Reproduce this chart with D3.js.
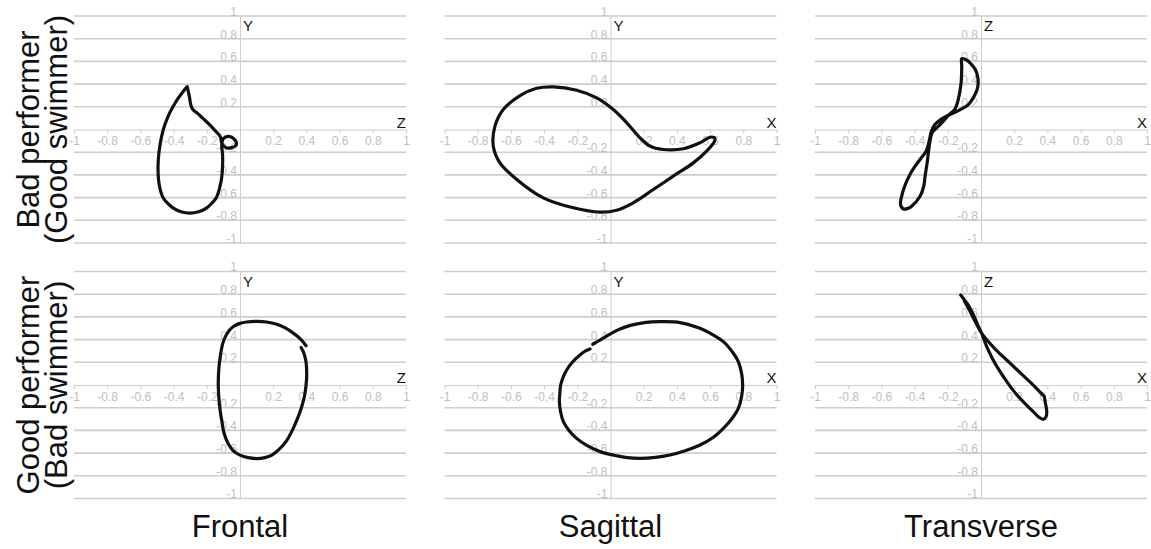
<!DOCTYPE html>
<html>
<head>
<meta charset="utf-8">
<script src="https://cdn.jsdelivr.net/npm/d3@7"></script>
<style>
  html, body { margin: 0; padding: 0; background: #fff; }
  svg { display: block; font-family: "Liberation Sans", Arial, sans-serif; }
</style>
</head>
<body>
<svg id="chart" width="1151" height="549"></svg>
<script>
// Planes (columns) and groups (rows)
const planes = ["Frontal", "Sagittal", "Transverse"];
const horizontalAxisNames = ["Z", "X", "X"];
const verticalAxisNames = ["Y", "Y", "Z"];
const groupTitles = ["Bad performer", "Good performer"];
const groupSubtitles = ["(Good swimmer)", "(Bad swimmer)"];

// Tick values and their printed labels (0 is left unlabelled)
const tickValues = [-1, -0.8, -0.6, -0.4, -0.2, 0, 0.2, 0.4, 0.6, 0.8, 1];
const tickLabels = ["-1", "-0.8", "-0.6", "-0.4", "-0.2", "", "0.2", "0.4", "0.6", "0.8", "1"];

// Loop traces, [horizontal, vertical] in normalised units
const frontalBad = [
  [-0.318, 0.378], [-0.318, 0.378], [-0.305, 0.29], [-0.295, 0.21], [-0.283, 0.175],
  [-0.258, 0.145], [-0.225, 0.1], [-0.185, 0.045], [-0.15, -0.01], [-0.118, -0.065],
  [-0.11, -0.12], [-0.085, -0.16], [-0.05, -0.16], [-0.022, -0.135], [-0.035, -0.085],
  [-0.07, -0.06], [-0.1, -0.08], [-0.11, -0.14], [-0.105, -0.22], [-0.105, -0.32],
  [-0.11, -0.42], [-0.122, -0.51], [-0.141, -0.596], [-0.17, -0.65], [-0.2, -0.69],
  [-0.25, -0.725], [-0.303, -0.737], [-0.355, -0.725], [-0.404, -0.69], [-0.44, -0.645],
  [-0.465, -0.596], [-0.485, -0.5], [-0.493, -0.4], [-0.492, -0.26], [-0.48, -0.12],
  [-0.462, 0], [-0.435, 0.11], [-0.404, 0.2], [-0.37, 0.28], [-0.34, 0.34]
];
const sagittalBad = [
  [-0.345, 0.376], [-0.204, 0.346], [-0.083, 0.279], [0.017, 0.176], [0.098, 0.059],
  [0.178, -0.073], [0.238, -0.147], [0.318, -0.176], [0.439, -0.17], [0.539, -0.117],
  [0.599, -0.068], [0.628, -0.075], [0.625, -0.11], [0.579, -0.191], [0.499, -0.294],
  [0.378, -0.411], [0.258, -0.529], [0.137, -0.646], [0.037, -0.711], [-0.063, -0.728],
  [-0.224, -0.69], [-0.405, -0.602], [-0.565, -0.44], [-0.666, -0.294], [-0.706, -0.147],
  [-0.696, 0.03], [-0.646, 0.176], [-0.545, 0.298], [-0.445, 0.363]
];
const transverseBad = [
  [-0.116, 0.623], [-0.09, 0.615], [-0.066, 0.588], [-0.035, 0.53], [-0.018, 0.45],
  [-0.02, 0.37], [-0.036, 0.308], [-0.076, 0.22], [-0.125, 0.175], [-0.19, 0.13],
  [-0.245, 0.085], [-0.28, 0.04], [-0.3, -0.02], [-0.312, -0.1], [-0.33, -0.19],
  [-0.367, -0.264], [-0.4, -0.33], [-0.428, -0.396], [-0.46, -0.5], [-0.48, -0.6],
  [-0.485, -0.66], [-0.468, -0.7], [-0.44, -0.695], [-0.418, -0.676], [-0.367, -0.588],
  [-0.345, -0.5], [-0.337, -0.411], [-0.325, -0.3], [-0.317, -0.205], [-0.307, -0.1],
  [-0.295, -0.03], [-0.27, 0.01], [-0.235, 0.06], [-0.2, 0.12], [-0.157, 0.18],
  [-0.137, 0.264], [-0.12, 0.41], [-0.116, 0.56]
];
const frontalGood = [
  [0.398, 0.346], [0.365, 0.405], [0.323, 0.455], [0.27, 0.505], [0.222, 0.535],
  [0.16, 0.555], [0.101, 0.56], [0.04, 0.555], [0, 0.543], [-0.035, 0.52],
  [-0.065, 0.48], [-0.09, 0.42], [-0.105, 0.36], [-0.118, 0.26], [-0.127, 0.15],
  [-0.131, 0.02], [-0.128, -0.1], [-0.12, -0.22], [-0.108, -0.33], [-0.095, -0.43],
  [-0.07, -0.52], [-0.04, -0.58], [0, -0.618], [0.05, -0.64], [0.101, -0.648],
  [0.15, -0.64], [0.192, -0.617], [0.24, -0.56], [0.283, -0.485], [0.315, -0.4],
  [0.343, -0.308], [0.37, -0.2], [0.388, -0.1], [0.398, 0], [0.402, 0.1],
  [0.398, 0.2], [0.385, 0.28], [0.368, 0.33]
];
const sagittalGood = [
  [-0.107, 0.359], [-0.063, 0.396], [0, 0.45], [0.057, 0.493], [0.12, 0.525],
  [0.178, 0.543], [0.25, 0.556], [0.318, 0.558], [0.419, 0.549], [0.539, 0.5],
  [0.62, 0.44], [0.68, 0.382], [0.74, 0.28], [0.77, 0.206], [0.79, 0.1],
  [0.796, 0], [0.79, -0.1], [0.77, -0.206], [0.73, -0.3], [0.68, -0.382],
  [0.62, -0.46], [0.539, -0.529], [0.45, -0.58], [0.358, -0.617], [0.27, -0.638],
  [0.178, -0.646], [0.1, -0.64], [0.04, -0.625], [-0.063, -0.587], [-0.14, -0.535],
  [-0.204, -0.47], [-0.25, -0.4], [-0.284, -0.323], [-0.3, -0.24], [-0.308, -0.147],
  [-0.305, -0.07], [-0.3, 0], [-0.285, 0.07], [-0.264, 0.132], [-0.23, 0.2],
  [-0.184, 0.264], [-0.15, 0.3], [-0.123, 0.317]
];
const transverseGood = [
  [-0.122, 0.793], [-0.1, 0.75], [-0.075, 0.7], [-0.046, 0.62], [-0.02, 0.53],
  [0.004, 0.455], [0.034, 0.34], [0.07, 0.23], [0.114, 0.12], [0.165, 0.01],
  [0.215, -0.085], [0.27, -0.17], [0.315, -0.235], [0.35, -0.285], [0.375, -0.302],
  [0.392, -0.28], [0.396, -0.23], [0.388, -0.16], [0.38, -0.1], [0.37, -0.085],
  [0.3, 0.02], [0.22, 0.13], [0.155, 0.22], [0.09, 0.31], [0.04, 0.39],
  [0.004, 0.455], [-0.035, 0.56], [-0.07, 0.66], [-0.1, 0.74]
];

// Each row lists its three plane traces; a flag says whether the loop closes
const traces = [
  [{ data: frontalBad, closed: true }, { data: sagittalBad, closed: true }, { data: transverseBad, closed: true }],
  [{ data: frontalGood, closed: false }, { data: sagittalGood, closed: false }, { data: transverseGood, closed: false }]
];

// Layout
const svg = d3.select("#chart");
const panelLeft = [74, 444.5, 815];
const panelWidth = 332;
const panelTop = [16, 271.5];
const panelHeight = 227;

const gridColor = "#d6cbcb";
const axisColor = "#d3caca";
const tickTextColor = "#c2bebe";
const fontStack = "Liberation Sans, Arial, sans-serif";

traces.forEach((row, r) => {
  row.forEach((trace, c) => {
    const x = d3.scaleLinear().domain([-1, 1]).range([panelLeft[c], panelLeft[c] + panelWidth]);
    const y = d3.scaleLinear().domain([-1, 1]).range([panelTop[r] + panelHeight, panelTop[r]]);
    const g = svg.append("g");

    // horizontal gridlines
    g.append("g").selectAll("line")
      .data(tickValues.filter(v => v !== 0))
      .join("line")
      .attr("x1", x(-1)).attr("x2", x(1))
      .attr("y1", d => y(d)).attr("y2", d => y(d))
      .attr("stroke", gridColor).attr("stroke-width", 1.6);

    // horizontal axis through the origin
    const xAxis = g.append("g")
      .attr("transform", `translate(0,${y(0)})`)
      .call(d3.axisBottom(x).tickValues(tickValues).tickSize(4).tickSizeOuter(0).tickPadding(3)
        .tickFormat((d, i) => tickLabels[i]));
    xAxis.select(".domain").attr("stroke", axisColor).attr("stroke-width", 1);
    xAxis.selectAll(".tick line").attr("stroke", axisColor);
    xAxis.selectAll(".tick text").attr("fill", tickTextColor).attr("font-size", 12)
      .attr("font-family", fontStack);

    // vertical axis through the origin
    const yAxis = g.append("g")
      .attr("transform", `translate(${x(0)},0)`)
      .call(d3.axisLeft(y).tickValues(tickValues).tickSize(0).tickSizeOuter(0).tickPadding(3)
        .tickFormat((d, i) => tickLabels[i]));
    yAxis.select(".domain").attr("stroke", axisColor).attr("stroke-width", 1);
    yAxis.selectAll(".tick text").attr("fill", tickTextColor).attr("font-size", 12)
      .attr("dy", "-0.05em")
      .attr("font-family", fontStack);

    // axis names
    g.append("text")
      .attr("x", x(0) + 3).attr("y", y(1) + 15)
      .attr("font-size", 15).attr("fill", "#111")
      .text(verticalAxisNames[c]);
    g.append("text")
      .attr("x", x(1)).attr("y", y(0) - 2)
      .attr("text-anchor", "end")
      .attr("font-size", 15).attr("fill", "#111")
      .text(horizontalAxisNames[c]);

    // the trace
    const line = d3.line()
      .x(d => x(d[0])).y(d => y(d[1]))
      .curve(trace.closed ? d3.curveCatmullRomClosed.alpha(0.5) : d3.curveCatmullRom.alpha(0.5));
    g.append("path")
      .attr("d", line(trace.data))
      .attr("fill", "none")
      .attr("stroke", "#111")
      .attr("stroke-width", 3.2)
      .attr("stroke-linejoin", "round")
      .attr("stroke-linecap", "round");
  });
});

// row titles
groupTitles.forEach((t, r) => {
  const cy = panelTop[r] + panelHeight / 2;
  const lab = svg.append("text")
    .attr("transform", `translate(39,${cy}) rotate(-90)`)
    .attr("text-anchor", "middle")
    .attr("font-size", 31).attr("fill", "#111");
  lab.append("tspan").attr("x", 0).attr("y", 0).text(t);
  lab.append("tspan").attr("x", 0).attr("y", 28).text(groupSubtitles[r]);
});

// column titles
planes.forEach((p, c) => {
  svg.append("text")
    .attr("x", panelLeft[c] + panelWidth / 2)
    .attr("y", 537)
    .attr("text-anchor", "middle")
    .attr("font-size", 31).attr("fill", "#111")
    .text(p);
});
</script>
</body>
</html>
